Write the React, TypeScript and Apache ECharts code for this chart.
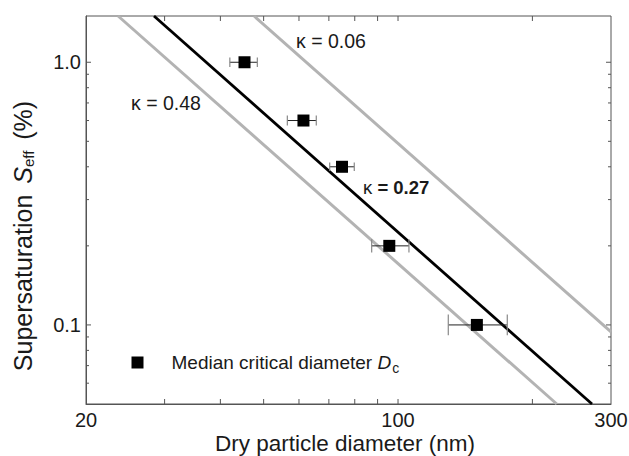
import React, { useEffect, useRef } from "react";
import * as echarts from "echarts";

// ---- Data ----
const X_MIN = 20;
const X_MAX = 300;
const Y_MIN = 0.05;
const Y_MAX = 1.5;

// Median critical diameters (nm) and supersaturation (%)
const diameters = [45.3, 61.4, 74.9, 95.6, 150.2];
const supersat = [1.0, 0.6, 0.4, 0.2, 0.1];
const diamLow = [42.0, 56.5, 70.3, 87.3, 129.6];
const diamHigh = [48.4, 65.6, 79.8, 105.8, 175.7];

// kappa lines (endpoints in data space)
const kappa027D = [28.4, 272];
const kappa027S = [1.5, 0.05];
const kappa048D = [23.6, 226.8];
const kappa048S = [1.5, 0.05];
const kappa006D = [47.6, 300];
const kappa006S = [1.5, 0.094];

// ticks
const xTickValues = [30, 40, 50, 60, 70, 80, 90, 100, 200];
const yMinorTickValues = [0.06, 0.07, 0.08, 0.09, 0.2, 0.3, 0.4, 0.5, 0.6, 0.7, 0.8, 0.9];
const yMajorTickValues = [0.1, 1.0];
const yLabelValues = [0.1, 1.0];
const yLabelTexts = ["0.1", "1.0"];

const FONT = "'Liberation Sans', Arial, Helvetica, sans-serif";
const TEXT = "#1a1a1a";
const AXIS = "#555";
const GRAY = "#b3b3b3";

const zip = (a: number[], b: number[]) => a.map((v, i) => [v, b[i]]);

export default function App() {
  const ref = useRef<HTMLDivElement>(null);
  useEffect(() => {
    if (!ref.current) return;
    const chart = echarts.init(ref.current, undefined, { renderer: "svg" });
    const tickStyle = { stroke: AXIS, lineWidth: 1 };
    const option: any = {
      animation: false,
      backgroundColor: "#fff",
      grid: {
        left: 86,
        top: 16,
        width: 525,
        height: 388,
        containLabel: false,
        outerBoundsMode: "none",
        show: true,
        borderColor: AXIS,
        borderWidth: 1,
      },
      xAxis: {
        type: "log",
        logBase: 10,
        min: X_MIN,
        max: X_MAX,
        name: "Dry particle diameter (nm)",
        nameLocation: "middle",
        nameGap: 28,
        nameMoveOverlap: false,
        nameTextStyle: { fontSize: 22.5, color: TEXT, fontFamily: FONT, padding: [0, 7, 0, 0] },
        axisLine: { show: true, lineStyle: { color: AXIS, width: 1 } },
        axisTick: { show: false },
        minorTick: { show: false },
        splitLine: { show: false },
        minorSplitLine: { show: false },
        axisLabel: {
          fontSize: 20,
          color: TEXT,
          fontFamily: FONT,
          margin: 6,
          formatter: (v: number) => String(Math.round(v)),
        },
      },
      yAxis: {
        type: "log",
        logBase: 10,
        min: Y_MIN,
        max: Y_MAX,
        name: "{t|Supersaturation }{i|S}{s|eff}{e| (%)}",
        nameLocation: "middle",
        nameGap: 50,
        nameRotate: 90,
        nameTextStyle: {
          fontSize: 25,
          color: TEXT,
          fontFamily: FONT,
          rich: {
            t: { fontSize: 25, color: TEXT, fontFamily: FONT },
            i: { fontSize: 25, color: TEXT, fontFamily: FONT, fontStyle: "italic", padding: [0, 0, 0, 4] },
            s: { fontSize: 15, color: TEXT, fontFamily: FONT, padding: [12, 4, 0, 0] },
            e: { fontSize: 25, color: TEXT, fontFamily: FONT, padding: [0, 52, 0, 0] },
          },
        },
        axisLine: { show: true, lineStyle: { color: AXIS, width: 1 } },
        axisTick: { show: false },
        minorTick: { show: false },
        splitLine: { show: false },
        minorSplitLine: { show: false },
        axisLabel: {
          fontSize: 20,
          color: TEXT,
          fontFamily: FONT,
          margin: 5,
          formatter: (v: number) => {
            for (let i = 0; i < yLabelValues.length; i++) {
              if (Math.abs(v - yLabelValues[i]) < 1e-9) return yLabelTexts[i];
            }
            return "";
          },
        },
      },
      legend: {
        show: true,
        data: ["Median critical diameter"],
        left: 131.5,
        top: 353,
        padding: 0,
        itemWidth: 12,
        itemHeight: 12,
        formatter: () => "{t|Median critical diameter }{d|D}{s|c}",
        textStyle: {
          color: TEXT,
          fontFamily: FONT,
          fontSize: 19,
          rich: {
            t: { fontSize: 19, color: TEXT, fontFamily: FONT, padding: [0, 0, 0, 23] },
            d: { fontSize: 19, color: TEXT, fontFamily: FONT, fontStyle: "italic" },
            s: { fontSize: 14, color: TEXT, fontFamily: FONT, padding: [10, 0, 0, 1] },
          },
        },
      },
      graphic: [
        {
          type: "text",
          x: 296,
          y: 41,
          style: { text: "κ = 0.06", fontSize: 19.5, fontFamily: FONT, fill: TEXT, verticalAlign: "middle" },
        },
        {
          type: "text",
          x: 131,
          y: 103,
          style: { text: "κ = 0.48", fontSize: 19.5, fontFamily: FONT, fill: TEXT, verticalAlign: "middle" },
        },
        {
          type: "text",
          x: 363,
          y: 187,
          style: {
            text: "{k|κ}{b| = 0.27}",
            fontSize: 18,
            fontFamily: FONT,
            fill: TEXT,
            verticalAlign: "middle",
            rich: {
              k: { fontSize: 18.5, fontFamily: FONT, fill: TEXT },
              b: { fontSize: 18.5, fontFamily: FONT, fill: TEXT, fontWeight: "bold" },
            },
          },
        },
      ],
      series: [
        {
          type: "line",
          name: "kappa 0.06",
          data: zip(kappa006D, kappa006S),
          showSymbol: false,
          symbol: "none",
          lineStyle: { color: GRAY, width: 3 },
          clip: true,
          z: 1,
        },
        {
          type: "line",
          name: "kappa 0.48",
          data: zip(kappa048D, kappa048S),
          showSymbol: false,
          symbol: "none",
          lineStyle: { color: GRAY, width: 3 },
          clip: true,
          z: 1,
        },
        {
          type: "line",
          name: "kappa 0.27",
          data: zip(kappa027D, kappa027S),
          showSymbol: false,
          symbol: "none",
          lineStyle: { color: "#000", width: 2.8 },
          clip: true,
          z: 2,
        },
        {
          type: "custom",
          name: "error bars",
          data: diameters.map((d, i) => [d, supersat[i], diamLow[i], diamHigh[i]]),
          encode: { x: 0, y: 1 },
          z: 3,
          renderItem: (params: any, api: any) => {
            const y = api.value(1);
            const l = api.coord([api.value(2), y]);
            const h = api.coord([api.value(3), y]);
            const cap = Math.max(6, (h[0] - l[0]) * 0.35) / 2;
            return {
              type: "group",
              children: [
                { type: "line", shape: { x1: l[0], y1: l[1], x2: h[0], y2: h[1] }, style: { stroke: "#222", lineWidth: 1 } },
                { type: "line", shape: { x1: l[0], y1: l[1] - cap, x2: l[0], y2: l[1] + cap }, style: { stroke: "#888", lineWidth: 1.2 } },
                { type: "line", shape: { x1: h[0], y1: h[1] - cap, x2: h[0], y2: h[1] + cap }, style: { stroke: "#888", lineWidth: 1.2 } },
              ],
            };
          },
        },
        {
          type: "scatter",
          name: "Median critical diameter",
          data: zip(diameters, supersat),
          symbol: "rect",
          symbolSize: 12,
          itemStyle: { color: "#000", opacity: 1 },
          z: 4,
        },
        {
          type: "custom",
          name: "x ticks",
          data: xTickValues.map((v) => [v, Y_MIN]),
          encode: { x: 0, y: 1 },
          z: 5,
          renderItem: (params: any, api: any) => {
            const v = api.value(0);
            const b = api.coord([v, Y_MIN]);
            const t = api.coord([v, Y_MAX]);
            return {
              type: "group",
              children: [
                { type: "line", shape: { x1: b[0], y1: b[1], x2: b[0], y2: b[1] - 5 }, style: tickStyle },
                { type: "line", shape: { x1: t[0], y1: t[1], x2: t[0], y2: t[1] + 5 }, style: tickStyle },
              ],
            };
          },
        },
        {
          type: "custom",
          name: "y minor ticks",
          data: yMinorTickValues.map((v) => [X_MIN, v]),
          encode: { x: 0, y: 1 },
          z: 5,
          renderItem: (params: any, api: any) => {
            const v = api.value(1);
            const l = api.coord([X_MIN, v]);
            const r = api.coord([X_MAX, v]);
            return {
              type: "group",
              children: [
                { type: "line", shape: { x1: l[0], y1: l[1], x2: l[0] + 3, y2: l[1] }, style: tickStyle },
                { type: "line", shape: { x1: r[0], y1: r[1], x2: r[0] - 3, y2: r[1] }, style: tickStyle },
              ],
            };
          },
        },
        {
          type: "custom",
          name: "y major ticks",
          data: yMajorTickValues.map((v) => [X_MIN, v]),
          encode: { x: 0, y: 1 },
          z: 5,
          renderItem: (params: any, api: any) => {
            const v = api.value(1);
            const l = api.coord([X_MIN, v]);
            const r = api.coord([X_MAX, v]);
            return {
              type: "group",
              children: [
                { type: "line", shape: { x1: l[0], y1: l[1], x2: l[0] + 5, y2: l[1] }, style: tickStyle },
                { type: "line", shape: { x1: r[0], y1: r[1], x2: r[0] - 5, y2: r[1] }, style: tickStyle },
              ],
            };
          },
        },
      ],
    };
    chart.setOption(option);
    return () => chart.dispose();
  }, []);
  return (
    <div
      ref={ref}
      style={{ position: "fixed", left: 0, top: 0, width: 629, height: 456, background: "#fff" }}
    />
  );
}
